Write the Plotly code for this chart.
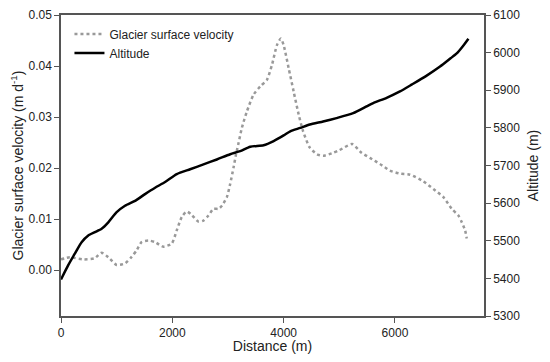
import plotly.graph_objects as go

vel_dist = [0, 160, 400, 600, 730, 850, 1000, 1150, 1270, 1360, 1450, 1570, 1690, 1830, 1990, 2080,
            2170, 2260, 2350, 2470, 2560, 2650, 2740, 2830, 2890, 2980, 3040, 3100, 3145, 3190, 3250,
            3340, 3460, 3580, 3700, 3790, 3880, 3950, 4000, 4090, 4180, 4270, 4350, 4470, 4600, 4710,
            4890, 5000, 5230, 5400, 5550, 5730, 5910, 6100, 6270, 6510, 6690, 6870, 7020, 7140, 7200,
            7260, 7290]
velocity = [0.0021, 0.0025, 0.0021, 0.0023, 0.0034, 0.0025, 0.0010, 0.0013, 0.0026, 0.0039, 0.0055,
            0.0058, 0.0055, 0.0046, 0.0052, 0.0078, 0.0104, 0.0115, 0.0108, 0.0095, 0.0097, 0.0107,
            0.0120, 0.0120, 0.0126, 0.0143, 0.0169, 0.0201, 0.0227, 0.0249, 0.0279, 0.0311, 0.0344,
            0.0360, 0.0373, 0.0402, 0.0441, 0.0454, 0.0441, 0.0396, 0.0350, 0.0305, 0.0272, 0.0240,
            0.0227, 0.0224, 0.0230, 0.0235, 0.0247, 0.0230, 0.0220, 0.0208, 0.0195, 0.0189, 0.0187,
            0.0174, 0.0159, 0.0143, 0.0120, 0.0107, 0.0094, 0.0078, 0.0062]

alt_dist = [0, 130, 250, 370, 490, 610, 730, 850, 1000, 1150, 1330, 1510, 1690, 1870, 2080, 2320,
            2560, 2800, 3040, 3220, 3400, 3640, 3820, 4000, 4120, 4300, 4470, 4710, 4950, 5250, 5490,
            5610, 5850, 6090, 6300, 6550, 6810, 7000, 7110, 7220, 7320]
altitude = [5397, 5435, 5466, 5496, 5514, 5523, 5532, 5549, 5576, 5593, 5606, 5624, 5641, 5656, 5677,
            5690, 5703, 5716, 5730, 5738, 5750, 5754, 5765, 5780, 5791, 5800, 5809, 5817, 5826, 5839,
            5857, 5866, 5880, 5897, 5915, 5937, 5963, 5985, 5998, 6017, 6037]

x_ticks = [0, 2000, 4000, 6000]
vel_ticks = [0.00, 0.01, 0.02, 0.03, 0.04, 0.05]
alt_ticks = [5300, 5400, 5500, 5600, 5700, 5800, 5900, 6000, 6100]

FONT = "Liberation Sans, Arial, sans-serif"
AX = "#555555"

fig = go.Figure()
fig.add_trace(go.Scatter(x=vel_dist, y=velocity, mode="lines", name="Glacier surface velocity",
                         line=dict(color="#999999", width=2.5, dash="dot", shape="spline", smoothing=0.6)))
fig.add_trace(go.Scatter(x=alt_dist, y=altitude, mode="lines", name="Altitude", yaxis="y2",
                         line=dict(color="#000000", width=2.5, shape="spline", smoothing=0.6)))

# the page body has an 8px default margin; the figure is sized so the page does not scroll
fig.update_layout(
    width=534, height=346,
    margin=dict(l=53, r=58, t=7, b=38),
    paper_bgcolor="white", plot_bgcolor="white",
    font=dict(family=FONT, size=12, color="#222222"),
    showlegend=True,
    legend=dict(x=0.02, y=0.985, xanchor="left", yanchor="top", bgcolor="rgba(0,0,0,0)",
                font=dict(size=12, color="#222222"), tracegroupgap=0, itemwidth=30),
    xaxis=dict(range=[0, 7600], tickvals=x_ticks, ticks="outside", ticklen=5, tickcolor=AX,
               showline=True, linecolor=AX, linewidth=1.5, mirror=True, showgrid=False, zeroline=False,
               automargin=False, ticklabeloverflow="allow",
               title=dict(text="Distance (m)", font=dict(size=14), standoff=1)),
    yaxis=dict(range=[-0.009, 0.05], tickvals=vel_ticks, tickformat=".2f", ticks="outside", ticklen=5,
               tickcolor=AX, showline=True, linecolor=AX, linewidth=1.5, showgrid=False, zeroline=False,
               automargin=False, ticklabeloverflow="allow",
               title=dict(text="Glacier surface velocity (m d<sup>-1</sup>)", font=dict(size=14), standoff=4)),
    yaxis2=dict(range=[5300, 6100], tickvals=alt_ticks, overlaying="y", side="right", ticks="outside",
                ticklen=5, tickcolor=AX, showline=True, linecolor=AX, linewidth=1.5, showgrid=False,
                zeroline=False, automargin=False, ticklabeloverflow="allow",
                title=dict(text="Altitude (m)", font=dict(size=14), standoff=9)),
)

fig.write_html("out.html")
